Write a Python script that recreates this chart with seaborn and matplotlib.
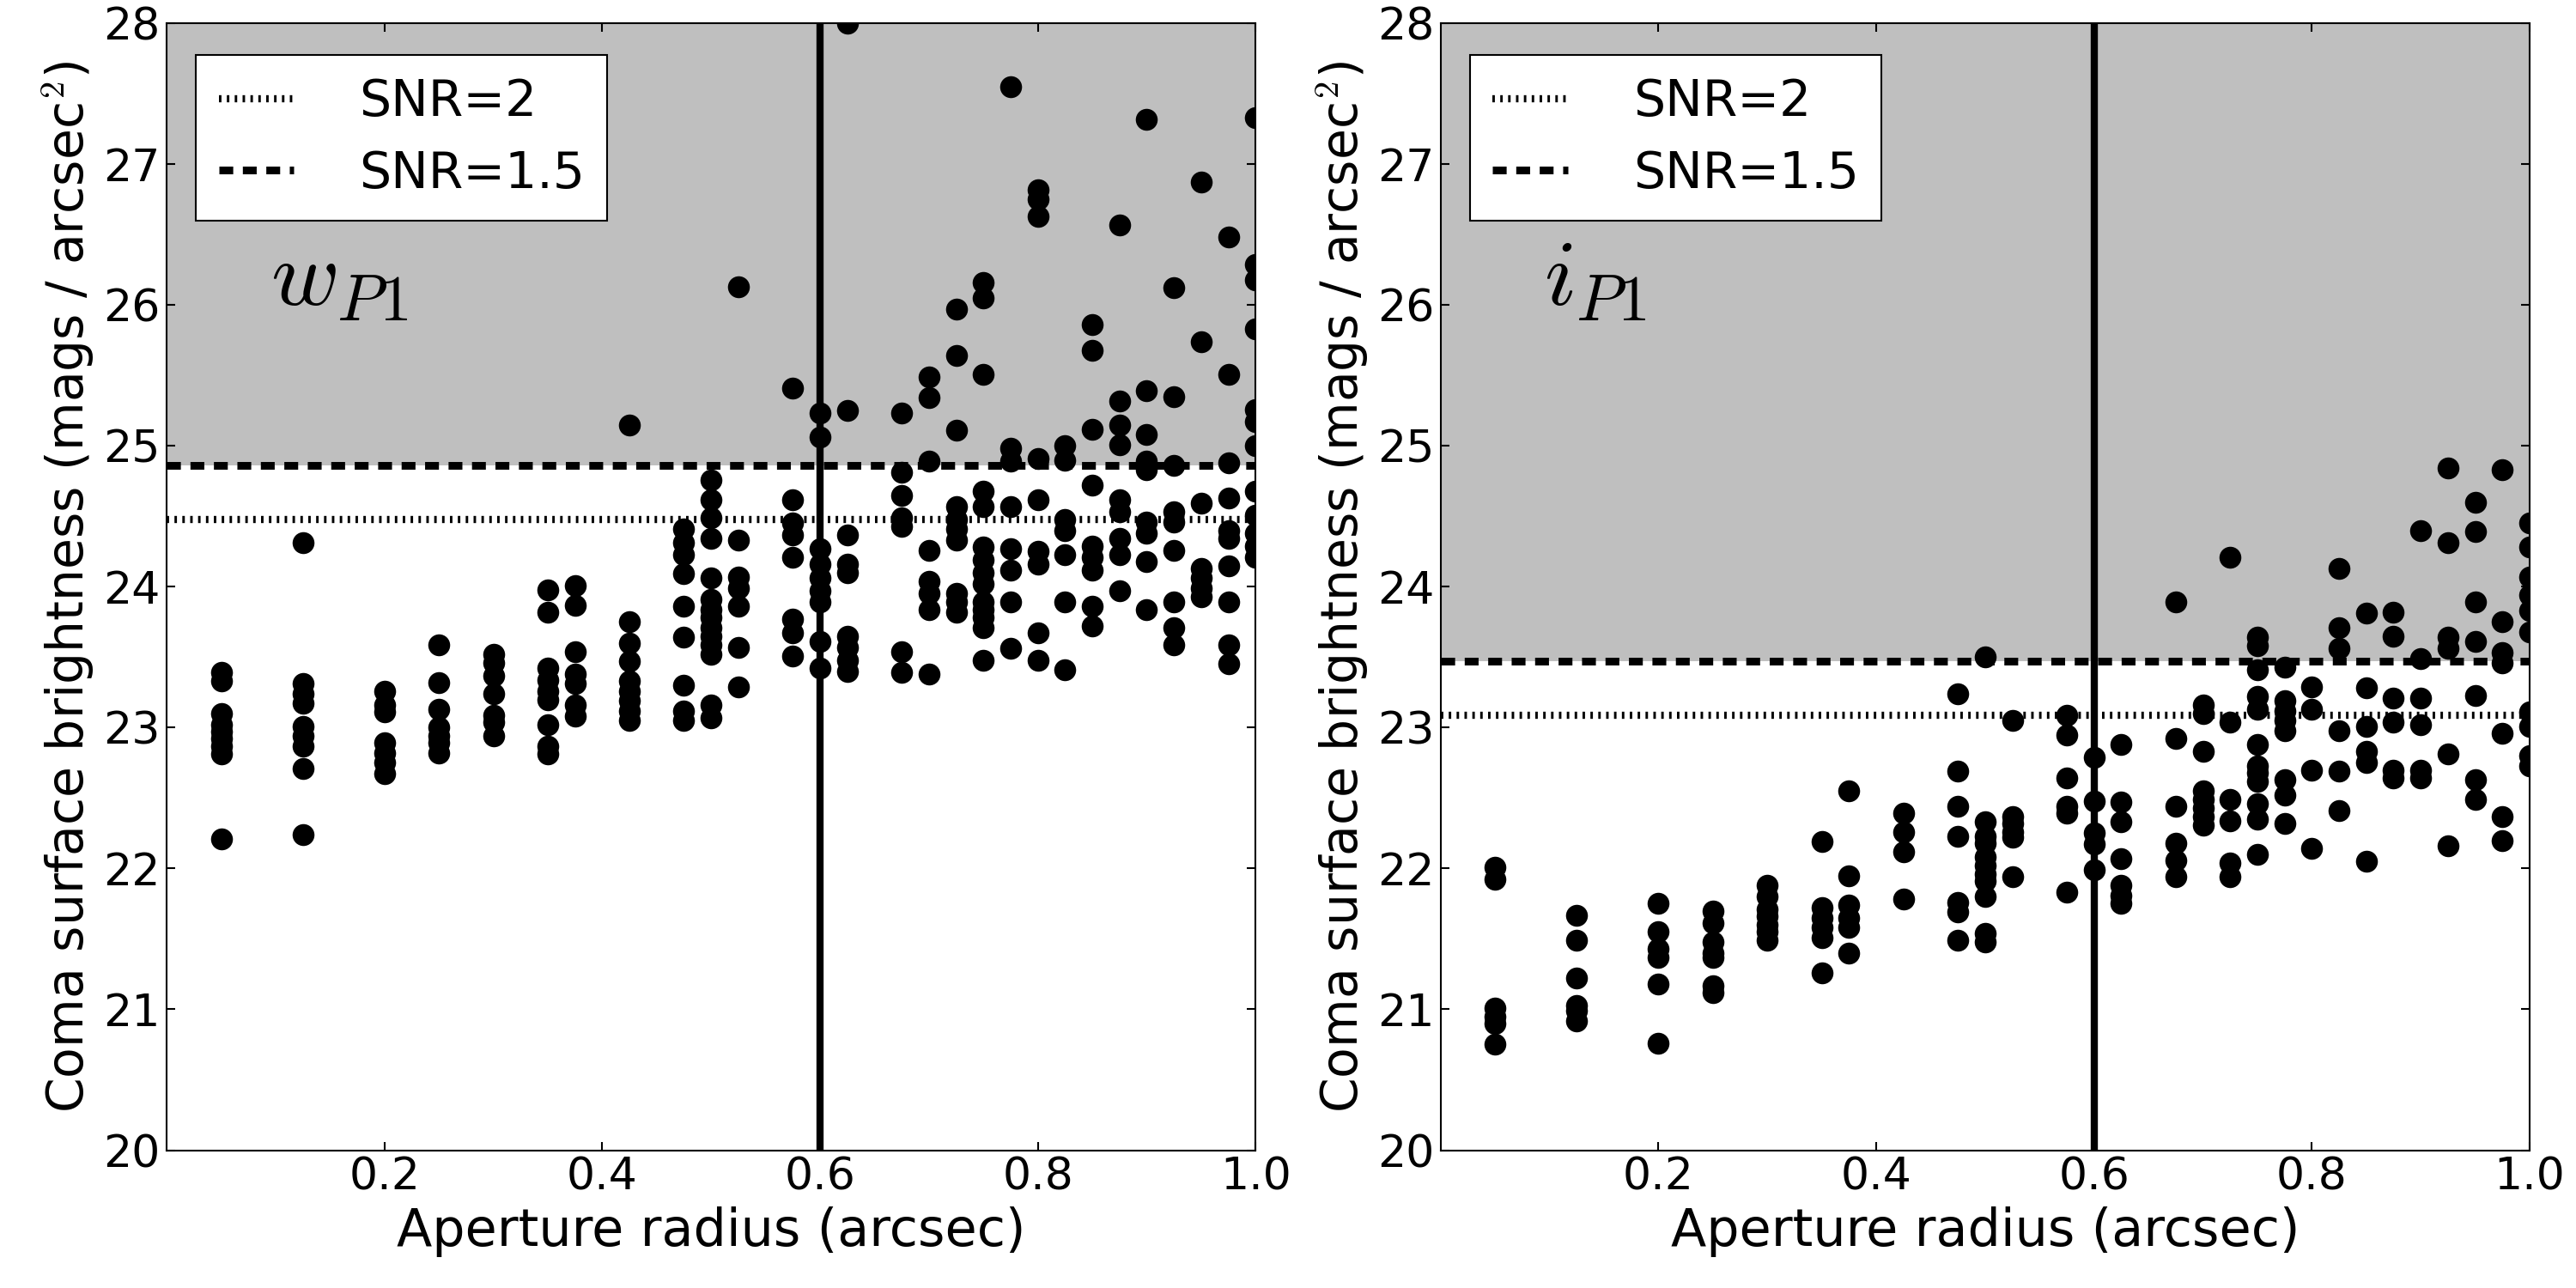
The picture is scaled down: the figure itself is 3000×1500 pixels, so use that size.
import pandas as pd
import matplotlib.pyplot as plt
import seaborn as sns
import numpy as np

# aperture radii (arcsec) used for each filter
w_radius = [0.05, 0.125, 0.2, 0.25, 0.3, 0.35, 0.375, 0.425, 0.475, 0.5, 0.525,
            0.575, 0.6, 0.625, 0.675, 0.7, 0.725, 0.75, 0.775, 0.8, 0.825, 0.85,
            0.875, 0.9, 0.925, 0.95, 0.975, 1.0]
i_radius = [0.05, 0.125, 0.2, 0.25, 0.3, 0.35, 0.375, 0.425, 0.475, 0.5, 0.525,
            0.575, 0.6, 0.625, 0.675, 0.7, 0.725, 0.75, 0.775, 0.8, 0.825, 0.85,
            0.875, 0.9, 0.925, 0.95, 0.975, 1.0]

# coma surface brightness (mags / arcsec^2), one list per radius
w_mag = [
    [23.39, 23.33, 23.10, 23.02, 22.97, 22.92, 22.87, 22.81, 22.21],
    [24.31, 23.31, 23.24, 23.17, 23.01, 22.94, 22.87, 22.71, 22.24],
    [23.26, 23.16, 23.11, 22.89, 22.82, 22.75, 22.67],
    [23.59, 23.32, 23.13, 23.00, 22.94, 22.89, 22.82],
    [23.52, 23.46, 23.37, 23.24, 23.09, 23.04, 22.94],
    [23.98, 23.82, 23.42, 23.34, 23.26, 23.20, 23.02, 22.87, 22.81],
    [24.01, 23.87, 23.54, 23.38, 23.31, 23.16, 23.08],
    [25.15, 23.75, 23.60, 23.47, 23.33, 23.26, 23.19, 23.12, 23.05],
    [24.41, 24.31, 24.23, 24.09, 23.86, 23.64, 23.30, 23.12, 23.05],
    [24.76, 24.62, 24.49, 24.34, 24.06, 23.91, 23.84, 23.78, 23.71, 23.65, 23.59, 23.52, 23.16, 23.07],
    [26.13, 24.33, 24.07, 23.99, 23.86, 23.57, 23.29],
    [25.41, 24.62, 24.45, 24.37, 24.21, 23.77, 23.67, 23.51],
    [25.23, 25.06, 24.27, 24.16, 24.06, 23.97, 23.89, 23.61, 23.42],
    [28.0, 25.25, 24.37, 24.16, 24.10, 23.65, 23.57, 23.48, 23.40],
    [25.23, 24.81, 24.65, 24.49, 24.43, 23.54, 23.39],
    [25.49, 25.34, 24.89, 24.26, 24.04, 23.95, 23.84, 23.38],
    [25.97, 25.64, 25.11, 24.57, 24.48, 24.41, 24.33, 23.95, 23.89, 23.82],
    [26.16, 26.05, 25.51, 24.68, 24.57, 24.28, 24.19, 24.10, 24.02, 23.89, 23.84, 23.78, 23.71, 23.48],
    [27.55, 24.98, 24.89, 24.57, 24.27, 24.12, 23.89, 23.56],
    [26.82, 26.75, 26.63, 24.91, 24.62, 24.25, 24.16, 23.67, 23.48],
    [25.00, 24.90, 24.48, 24.40, 24.23, 23.89, 23.41],
    [25.86, 25.68, 25.12, 24.72, 24.29, 24.21, 24.12, 23.86, 23.72],
    [26.57, 25.32, 25.15, 25.01, 24.62, 24.53, 24.34, 24.23, 23.97],
    [27.32, 25.39, 25.08, 24.89, 24.83, 24.46, 24.38, 24.18, 23.84],
    [26.12, 25.35, 24.86, 24.53, 24.46, 24.26, 23.89, 23.71, 23.59],
    [26.87, 25.74, 24.59, 24.13, 24.06, 23.99, 23.93],
    [26.48, 25.51, 24.88, 24.63, 24.40, 24.34, 24.15, 23.89, 23.59, 23.45],
    [27.33, 26.29, 26.18, 25.83, 25.26, 25.17, 25.00, 24.68, 24.51, 24.38, 24.29, 24.21],
]
i_mag = [
    [22.01, 21.92, 21.01, 20.95, 20.90, 20.75],
    [21.67, 21.49, 21.22, 21.03, 20.99, 20.92],
    [21.75, 21.55, 21.43, 21.37, 21.18, 20.76],
    [21.70, 21.61, 21.48, 21.40, 21.37, 21.17, 21.12],
    [21.88, 21.80, 21.71, 21.66, 21.60, 21.55, 21.49],
    [22.19, 21.72, 21.65, 21.58, 21.51, 21.26],
    [22.55, 21.95, 21.74, 21.65, 21.58, 21.40],
    [22.39, 22.26, 22.12, 21.78],
    [23.24, 22.69, 22.44, 22.23, 21.76, 21.69, 21.49],
    [23.50, 22.33, 22.23, 22.18, 22.08, 22.02, 21.96, 21.91, 21.80, 21.54, 21.48],
    [23.05, 22.37, 22.32, 22.26, 22.22, 21.94],
    [23.09, 22.95, 22.64, 22.44, 22.39, 21.83],
    [22.79, 22.48, 22.25, 22.17, 21.99],
    [22.88, 22.47, 22.33, 22.07, 21.88, 21.81, 21.75],
    [23.89, 22.92, 22.44, 22.18, 22.06, 21.94],
    [23.16, 23.10, 22.83, 22.55, 22.49, 22.43, 22.37, 22.31],
    [24.21, 23.04, 22.49, 22.34, 22.04, 21.94],
    [23.64, 23.58, 23.41, 23.22, 23.13, 22.88, 22.73, 22.68, 22.62, 22.46, 22.35, 22.10],
    [23.43, 23.19, 23.12, 23.05, 22.98, 22.63, 22.52, 22.32],
    [23.29, 23.13, 22.70, 22.14],
    [24.13, 23.71, 23.56, 22.98, 22.69, 22.41],
    [23.81, 23.28, 23.01, 22.83, 22.75, 22.05],
    [23.82, 23.65, 23.21, 23.04, 22.70, 22.64],
    [24.40, 23.49, 23.21, 23.02, 22.70, 22.64],
    [24.84, 24.31, 23.64, 23.56, 22.81, 22.16],
    [24.60, 24.39, 23.89, 23.61, 23.23, 22.63, 22.49],
    [24.83, 23.75, 23.53, 23.46, 22.96, 22.37, 22.20],
    [24.45, 24.28, 24.07, 23.94, 23.83, 23.68, 23.11, 23.01, 22.80, 22.73],
]

# limiting surface brightness levels
w_snr2 = 24.48
w_snr15 = 24.86
i_snr2 = 23.09
i_snr15 = 23.47

seeing_radius = 0.6
filter_labels = [r'$w_{P1}$', r'$i_{P1}$']
x_ticks = [0.2, 0.4, 0.6, 0.8, 1.0]
y_ticks = [20, 21, 22, 23, 24, 25, 26, 27, 28]


def to_frame(radius, mags):
    rows = [(r, m) for r, ms in zip(radius, mags) for m in ms]
    return pd.DataFrame(rows, columns=['radius', 'mag'])


sns.set_style('ticks', {'xtick.direction': 'in', 'ytick.direction': 'in',
                        'axes.edgecolor': 'black', 'text.color': 'black',
                        'axes.labelcolor': 'black', 'xtick.color': 'black',
                        'ytick.color': 'black'})
plt.rcParams['font.family'] = ['DejaVu Sans']
plt.rcParams['mathtext.fontset'] = 'cm'
plt.rcParams['xtick.top'] = True
plt.rcParams['ytick.right'] = True

fig, axes = plt.subplots(1, 2, figsize=(20, 10), dpi=150)
fig.subplots_adjust(left=0.0647, right=0.982, bottom=0.107, top=0.982, wspace=0.17)

panels = [
    (to_frame(w_radius, w_mag), w_snr2, w_snr15, filter_labels[0]),
    (to_frame(i_radius, i_mag), i_snr2, i_snr15, filter_labels[1]),
]

for ax, (df, snr2, snr15, flabel) in zip(axes, panels):
    ax.axhspan(snr15, 28, color='#bfbfbf', zorder=0, lw=0)
    ax.axhline(snr2, color='black', lw=4, ls=(0, (0.35, 0.75)), label='SNR=2', zorder=1)
    ax.axhline(snr15, color='black', lw=4.3, ls=(0, (1.8, 1.25)), label='SNR=1.5', zorder=1)
    ax.axvline(seeing_radius, color='black', lw=4, zorder=2)
    sns.scatterplot(data=df, x='radius', y='mag', ax=ax, color='black',
                    s=150, linewidth=0, zorder=3)
    ax.set_xlim(0, 1.0)
    ax.set_ylim(20, 28)
    ax.set_xticks(x_ticks)
    ax.set_yticks(y_ticks)
    ax.tick_params(labelsize=25, length=5, width=1, colors='black')
    ax.set_xlabel('Aperture radius (arcsec)', fontsize=29, color='black')
    ax.set_ylabel('Coma surface brightness (mags / arcsec$^2$)', fontsize=28, color='black')
    ax.text(0.095, 26.0, flabel, fontsize=52, color='black')
    leg = ax.legend(loc='upper left', fontsize=28, fancybox=False, framealpha=1,
                    edgecolor='black', handlelength=1.5, handletextpad=1.3,
                    borderpad=0.45, labelspacing=0.45, bbox_to_anchor=(0.004, 0.994))
    leg.get_frame().set_linewidth(1)
    for t in leg.get_texts():
        t.set_color('black')
    for s in ax.spines.values():
        s.set_linewidth(1)

plt.savefig('out.png')
plt.close()
